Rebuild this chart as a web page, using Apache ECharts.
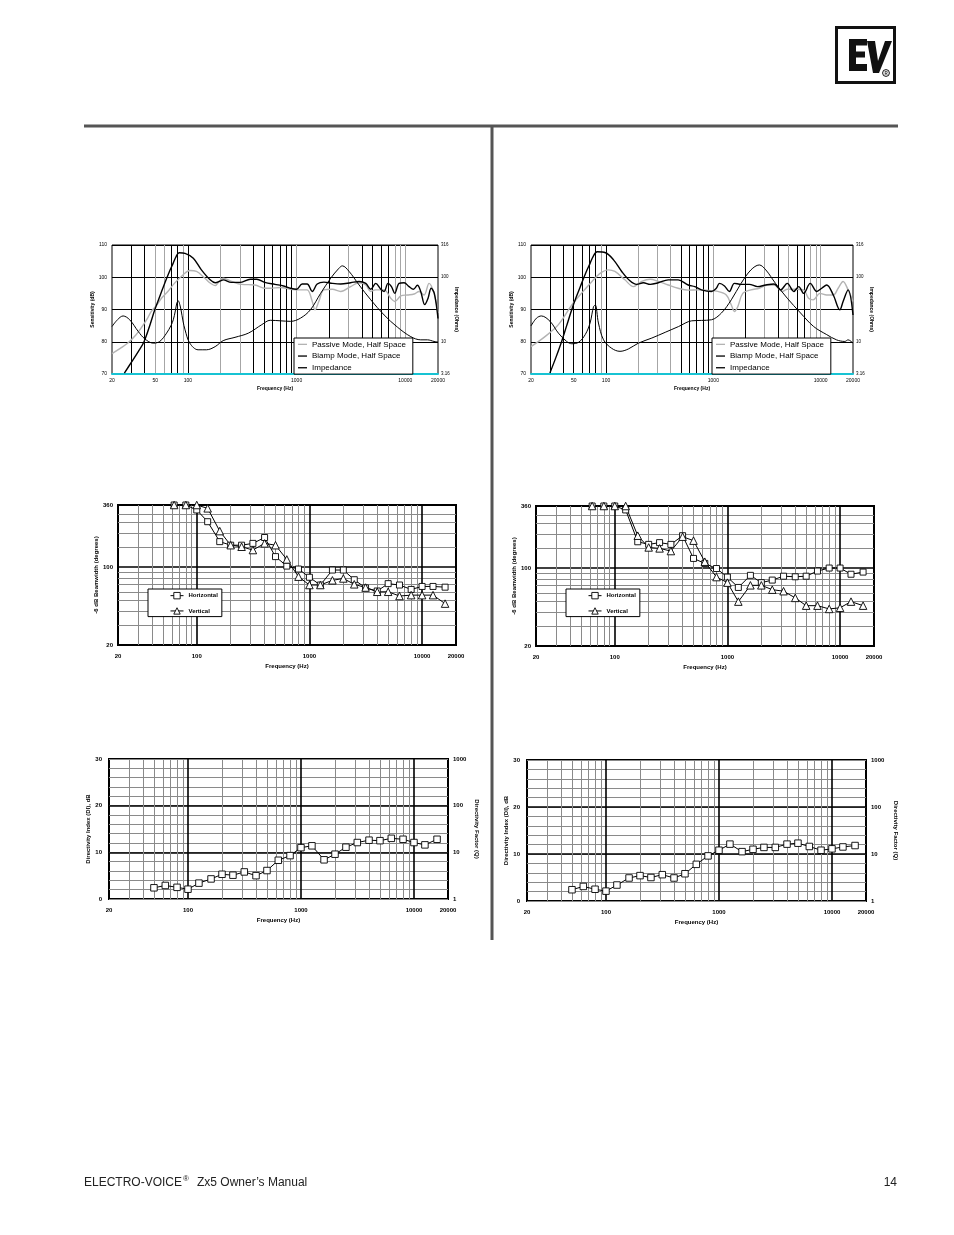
<!DOCTYPE html>
<html><head><meta charset="utf-8">
<script src="https://cdn.jsdelivr.net/npm/echarts@6/dist/echarts.min.js"></script>
<style>html,body{margin:0;padding:0;background:#fff}#c{width:954px;height:1235px}</style>
</head><body><div id="c"></div>
<script>
// ---------------- DATA ----------------
// Frequency response, left (Zx5-60), [Hz, dB]
const TL_PASSIVE = [[20,76.3],[24,78],[28,79.6],[33,82],[37,84.2],[42,87],[46,89.4],[52,91.5],[57,93.5],[65,95.5],[75,98.1],[90,100.7],[104,102.1],[120,101.8],[143,99.7],[160,98.2],[178,97.4],[195,98.8],[211,99.7],[252,98.7],[311,97.8],[413,97.6],[511,96.6],[572,96.6],[710,96.8],[879,96.3],[1085,96.1],[1250,96.1],[1393,92.5],[1475,89.9],[1600,92.5],[1786,96.1],[2132,96.3],[2545,95.6],[3142,97.1],[3753,98.3],[4329,97.6],[4810,95.6],[5346,96.1],[6380,96.1],[7350,93.5],[8000,92.5],[9100,94.2],[10460,94.5],[12060,94.8],[13400,95.6],[14880,94.5],[16550,98.1],[18400,95],[20000,88.9]];
const TL_BIAMP = [[26,70.3],[30,73.5],[35,77],[39.5,80.1],[45,85.5],[49.5,89.9],[55,94],[61,98.1],[67,101.5],[73,104.3],[78,106.5],[83,107.6],[94,107.4],[112,105.9],[133,102.3],[160,99.2],[178,98.3],[200,98.9],[211,99.2],[250,98.4],[300,98.4],[375,99.4],[430,99.4],[510,98.4],[632,97.8],[760,97.3],[880,96.6],[1000,96.3],[1124,97.9],[1250,97.9],[1393,95.6],[1547,97.9],[1786,98.5],[2132,98.1],[2545,97.9],[3142,98.3],[3753,98.7],[4329,98.1],[4810,96.3],[5346,98.1],[5950,96.3],[6380,95.6],[6940,98.1],[7460,97.1],[8000,95],[8770,98.1],[9750,98.3],[10830,97.1],[11870,96.3],[12920,97.5],[13870,95.6],[15100,91.5],[16200,93.5],[17300,96.6],[18500,95],[20000,87.2]];
// impedance, [Hz, ohms]
const TL_IMPEDANCE = [[20,17.2],[22.5,22],[25.3,25.1],[29.1,21.9],[34.8,14.5],[40,11.1],[48,9.5],[55,10.1],[63.6,13.6],[70,18],[73.3,21.9],[76.5,30],[79,39.8],[81.5,43],[84,38],[86.3,31.3],[90,21],[94,15.3],[104,9.5],[124,7.5],[148,7.5],[178,8.4],[211,10.4],[271,11.7],[360,13.6],[478,18.4],[572,21.5],[710,21.1],[879,20.7],[1085,23.2],[1340,31.3],[1660,56],[2060,96.6],[2454,138],[2636,150],[3040,123],[3753,76],[4810,44.7],[6380,26],[8480,16.8],[11230,12],[13870,10.7],[16000,10.7],[18400,10.1],[20000,9.9]];
// Frequency response, right
const TR_PASSIVE = [[20,78.5],[27,81.6],[36,85.3],[48,91.4],[59,95],[74,98.7],[88,101.2],[105,102.3],[121,101.8],[150,99.2],[180,97.1],[215,98.7],[258,99.4],[307,98.7],[380,97.6],[470,96.6],[583,96],[720,96.1],[895,95.9],[1100,95.6],[1320,94.5],[1470,91.4],[1570,89.4],[1690,90.9],[1880,95],[2240,96.1],[2680,96.6],[3200,97.6],[3680,97.6],[4400,95.6],[4880,96.3],[6010,96.3],[6940,96.1],[7700,93.5],[8500,93],[9850,95],[11370,94.5],[13100,94.5],[14550,96.6],[16170,98.7],[17990,96.1],[20000,92.5]];
const TR_BIAMP = [[30,70.3],[34,75],[38.6,80.1],[43,85],[47.9,89.9],[53,94],[59.2,98.1],[65,101.5],[71,104.3],[76,106.5],[82.7,107.9],[98.9,107.6],[117.5,105.4],[140,101.8],[167,98.9],[193,97.8],[223,98.3],[258,97.8],[307,98.3],[380,99.2],[470,99.2],[583,97.6],[672,97.1],[774,96.1],[960,95.6],[1065,96.6],[1140,98.1],[1270,97.3],[1410,95.6],[1570,98.1],[1810,97.8],[2160,97.8],[2580,97.1],[3080,97.6],[3680,97.9],[4240,96.1],[4880,98.1],[5620,95.6],[6240,97.1],[6940,95],[7990,98.1],[9200,95.6],[10230,96.6],[11370,97.6],[13100,94.5],[15080,89.9],[16170,92.5],[17990,96.1],[20000,88.3]];
const TR_IMPEDANCE = [[20,17.6],[22.5,23.2],[25,25.1],[30.1,20.7],[36,13.6],[43,10.1],[48,9.3],[55.5,9.8],[64,12.9],[71,19.5],[76.5,35],[79.4,37],[85,19.5],[94.8,10.7],[113,7.9],[135,7.1],[161,7.7],[200,9.5],[267,11.4],[356,14],[474,17.2],[628,21.1],[774,21.4],[960,21.9],[1190,27.9],[1470,44.7],[1810,80],[2240,130],[2680,155],[3080,130],[3800,80],[4880,47.3],[6490,27.9],[8600,17.2],[11370,12.9],[14040,10.7],[16800,10.1],[17990,10.7],[20000,9.5]];

// Beamwidth (degrees) at 1/3-octave centres
const BW_FREQ = [63,80,100,125,160,200,250,315,400,500,630,800,1000,1250,1600,2000,2500,3150,4000,5000,6300,8000,10000,12500,16000];
const BW_L_HORIZ = [360,360,325,255,169,157,157,163,184,124,102,96,81,69,94,94,77,65,61,71,69,63,67,67,66];
const BW_L_VERT  = [360,360,360,336,210,157,152,142,163,157,117,82,69,69,76,79,70,65.5,60,60,55,56,56,56,47];
const BW_R_HORIZ = [360,360,360,332,172,163,169,163,195,122,110,99,83,67,86,74,78,84.5,83.5,84.5,94,100,100,88,92];
const BW_R_VERT  = [360,360,360,360,195,153,150,142,191,176,114,83,74,50,70,70,64,62,54,46,46,43,44,50,46];

// Directivity index (dB)
const DI_FREQ = [50,63,80,100,125,160,200,250,315,400,500,630,800,1000,1250,1600,2000,2500,3150,4000,5000,6300,8000,10000,12500,16000];
const DI_L = [2.4,2.9,2.5,2.1,3.4,4.3,5.3,5.1,5.8,5.0,6.1,8.3,9.3,11.0,11.4,8.4,9.6,11.1,12.1,12.6,12.5,13.0,12.8,12.1,11.6,12.8];
const DI_R = [2.4,3.1,2.5,2.1,3.4,4.9,5.4,5.0,5.6,4.9,5.8,7.8,9.6,10.8,12.1,10.5,11.0,11.4,11.4,12.1,12.3,11.6,10.8,11.1,11.5,11.8];

// Tick / grid values
const RESP_GRID_FREQS = [30,40,50,60,70,80,90,100,200,300,400,500,600,700,800,900,1000,2000,3000,4000,5000,6000,7000,8000,9000,10000];
const RESP_X_LABELS = [20,50,100,1000,10000,20000];
const IMP_LABELS = [3.16,10,100,316];
const MINOR_FREQS = [30,40,50,60,70,80,90,200,300,400,500,600,700,800,900,2000,3000,4000,5000,6000,7000,8000,9000];
const MAJOR_FREQS = [100,1000,10000];
const X_LABELS = [20,100,1000,10000,20000];
const BW_MINOR = [30,40,50,60,70,80,90,150,200,250,300];
const BW_LABELS = [20,100,360];
const DI_LABELS = [0,10,20,30];
const Q_LABELS = [1,10,100,1000];
const Q_MAJOR = [10,100];

// ---------------- STYLE ----------------
const FONT = '"Liberation Sans", Arial, sans-serif';
const K = '#000', G = '#a6a6a6';
const RESP_L_COLORS = [K,K,G,G,K,K,G,K,G,G,K,K,K,K,K,K,G,K,G,K,K,K,K,G,G,G];
const RESP_R_COLORS = [K,K,K,K,K,K,G,K,G,G,G,K,K,K,K,K,G,K,G,K,G,K,K,G,G,G];
const MINOR_GREY = '#8a8a8a';
const fmt = v => (v >= 20 ? String(Math.round(v)) : String(+(+v).toFixed(2)));

const zip = (xs, ys) => xs.map((x, i) => [x, ys[i]]);
const nameStyle = (fs) => ({fontSize: fs, fontWeight: 'bold', color: '#000', fontFamily: FONT});

const grids = [
  {left:112, top:245, width:326, height:129, show:true, borderColor:'#000', borderWidth:1},
  {left:531, top:245, width:322, height:129, show:true, borderColor:'#000', borderWidth:1},
  {left:118, top:505, width:338, height:140, show:true, borderColor:'#000', borderWidth:2},
  {left:536, top:506, width:338, height:140, show:true, borderColor:'#000', borderWidth:2},
  {left:109, top:759, width:339, height:140, show:true, borderColor:'#000', borderWidth:2},
  {left:527, top:760, width:339, height:141, show:true, borderColor:'#000', borderWidth:2}
].map(g => Object.assign({containLabel:false, outerBoundsMode:'none', backgroundColor:'transparent'}, g));

function respX(gi, colors) {
  return {type:'log', gridIndex:gi, min:20, max:20000,
    axisLine:{show:true, onZero:false, lineStyle:{color:'#17c3d3', width:2}},
    axisTick:{show:false, customValues:RESP_GRID_FREQS},
    axisLabel:{customValues:RESP_X_LABELS, formatter:fmt, fontSize:5, color:'#000', margin:4, fontFamily:FONT},
    splitLine:{show:true, lineStyle:{color:colors, width:1}},
    name:'Frequency (Hz)', nameLocation:'middle', nameGap:12, nameTextStyle:nameStyle(5)};
}
function respYL(gi) {
  return {type:'value', gridIndex:gi, position:'left', min:70, max:110, interval:10,
    axisLine:{show:false}, axisTick:{show:false},
    axisLabel:{fontSize:5, color:'#000', margin:5, fontFamily:FONT},
    splitLine:{show:true, lineStyle:{color:'#000', width:1}},
    name:'Sensitivity (dB)', nameLocation:'middle', nameRotate:90, nameGap:15, nameTextStyle:nameStyle(5)};
}
function respYR(gi) {
  return {type:'log', gridIndex:gi, position:'right', min:3.16, max:316,
    axisLine:{show:false}, axisTick:{show:false, customValues:IMP_LABELS},
    axisLabel:{customValues:IMP_LABELS, formatter:fmt, fontSize:4.5, color:'#000', margin:3, fontFamily:FONT},
    splitLine:{show:false},
    name:'Impedance (Ohms)', nameLocation:'middle', nameRotate:-90, nameGap:12, nameTextStyle:nameStyle(5)};
}
function mainX(gi) {
  return {type:'log', gridIndex:gi, min:20, max:20000, position:'bottom',
    axisLine:{show:false}, axisTick:{show:false, customValues:MINOR_FREQS},
    axisLabel:{customValues:X_LABELS, formatter:fmt, fontSize:6, fontWeight:'bold', color:'#000', margin:8, fontFamily:FONT},
    splitLine:{show:true, lineStyle:{color:MINOR_GREY, width:1}},
    name:'Frequency (Hz)', nameLocation:'middle', nameGap:18, nameTextStyle:nameStyle(6)};
}
function heavyX(gi) {
  return {type:'log', gridIndex:gi, min:20, max:20000, position:'top',
    axisLine:{show:false}, axisTick:{show:false, customValues:MAJOR_FREQS},
    axisLabel:{show:false}, splitLine:{show:true, lineStyle:{color:'#000', width:1.6}}};
}
function bwY(gi, gap) {
  return {type:'log', gridIndex:gi, position:'left', min:20, max:360,
    axisLine:{show:false}, axisTick:{show:false, customValues:BW_MINOR},
    axisLabel:{customValues:BW_LABELS, formatter:fmt, fontSize:6, fontWeight:'bold', color:'#000', margin:5, fontFamily:FONT},
    splitLine:{show:true, lineStyle:{color:MINOR_GREY, width:1}},
    name:'-6 dB Beamwidth (degrees)', nameLocation:'middle', nameRotate:90, nameGap:gap, nameTextStyle:nameStyle(6)};
}
function bwYHeavy(gi) {
  return {type:'log', gridIndex:gi, position:'right', min:20, max:360,
    axisLine:{show:false}, axisTick:{show:false, customValues:[100]},
    axisLabel:{show:false}, splitLine:{show:true, lineStyle:{color:'#000', width:1.6}}};
}
function diY(gi, gap) {
  return {type:'value', gridIndex:gi, position:'left', min:0, max:30, interval:2,
    axisLine:{show:false}, axisTick:{show:false},
    axisLabel:{customValues:DI_LABELS, formatter:fmt, fontSize:6, fontWeight:'bold', color:'#000', margin:7, fontFamily:FONT},
    splitLine:{show:true, lineStyle:{color:MINOR_GREY, width:1}},
    name:'Directivity Index (DI), dB', nameLocation:'middle', nameRotate:90, nameGap:gap, nameTextStyle:nameStyle(6)};
}
function qY(gi, gap) {
  return {type:'log', gridIndex:gi, position:'right', min:1, max:1000,
    axisLine:{show:false}, axisTick:{show:false, customValues:Q_MAJOR},
    axisLabel:{customValues:Q_LABELS, formatter:fmt, fontSize:6, fontWeight:'bold', color:'#000', margin:5, fontFamily:FONT},
    splitLine:{show:true, lineStyle:{color:'#000', width:1.6}},
    name:'Directivity Factor (Q)', nameLocation:'middle', nameRotate:-90, nameGap:gap, nameTextStyle:nameStyle(6)};
}

const xAxes = [respX(0, RESP_L_COLORS), respX(1, RESP_R_COLORS),
  mainX(2), heavyX(2), mainX(3), heavyX(3), mainX(4), heavyX(4), mainX(5), heavyX(5)];
const yAxes = [respYL(0), respYR(0), respYL(1), respYR(1),
  bwY(2, 15), bwYHeavy(2), bwY(3, 17), bwYHeavy(3),
  diY(4, 14), qY(4, 26), diY(5, 13), qY(5, 27)];

const base = {type:'line', animation:false, z:5};
function respSeries(xi, yi, passive, biamp, imp) {
  return [
    Object.assign({}, base, {name:'Passive Mode, Half Space', xAxisIndex:xi, yAxisIndex:yi, data:passive,
      smooth:0.35, symbol:'none', lineStyle:{color:'#b3b3b3', width:1.4}, itemStyle:{color:'#b3b3b3'}}),
    Object.assign({}, base, {name:'Biamp Mode, Half Space', xAxisIndex:xi, yAxisIndex:yi, data:biamp,
      smooth:0.35, symbol:'none', lineStyle:{color:'#000', width:1.4}, itemStyle:{color:'#000'}}),
    Object.assign({}, base, {name:'Impedance', xAxisIndex:xi, yAxisIndex:yi + 1, data:imp,
      smooth:0.35, symbol:'none', lineStyle:{color:'#000', width:1}, itemStyle:{color:'#000'}})
  ];
}
const markerStyle = {color:'#fff', borderColor:'#000', borderWidth:0.9};
function bwSeries(xi, yi, h, v) {
  return [
    Object.assign({}, base, {name:'Horizontal', xAxisIndex:xi, yAxisIndex:yi, data:zip(BW_FREQ, h),
      symbol:'rect', symbolSize:6, lineStyle:{color:'#000', width:1}, itemStyle:markerStyle}),
    Object.assign({}, base, {name:'Vertical', xAxisIndex:xi, yAxisIndex:yi, data:zip(BW_FREQ, v),
      symbol:'triangle', symbolSize:7.5, lineStyle:{color:'#000', width:1}, itemStyle:markerStyle})
  ];
}
function diSeries(xi, yi, d) {
  return [Object.assign({}, base, {name:'DI', xAxisIndex:xi, yAxisIndex:yi, data:zip(DI_FREQ, d),
    symbol:'rect', symbolSize:6.5, lineStyle:{color:'#000', width:1}, itemStyle:markerStyle})];
}

const series = [].concat(
  respSeries(0, 0, TL_PASSIVE, TL_BIAMP, TL_IMPEDANCE),
  respSeries(1, 2, TR_PASSIVE, TR_BIAMP, TR_IMPEDANCE),
  bwSeries(2, 4, BW_L_HORIZ, BW_L_VERT),
  bwSeries(4, 6, BW_R_HORIZ, BW_R_VERT),
  diSeries(6, 8, DI_L),
  diSeries(8, 10, DI_R)
);

function respLegend(left) {
  return {orient:'vertical', left:left, top:338, icon:'rect', itemWidth:9, itemHeight:1.3, itemGap:3,
    padding:[2,7,2,4], backgroundColor:'#fff', borderColor:'#000', borderWidth:1, borderRadius:0,
    selectedMode:false, textStyle:{fontSize:8, lineHeight:8.7, color:'#000', fontFamily:FONT},
    data:['Passive Mode, Half Space','Biamp Mode, Half Space','Impedance']};
}
function bwLegend(left) {
  return {orient:'vertical', left:left, top:589, itemWidth:13, itemHeight:8, itemGap:8,
    padding:[3,4,2,22], backgroundColor:'#fff', borderColor:'#000', borderWidth:1, borderRadius:0,
    selectedMode:false, textStyle:{fontSize:6, fontWeight:'bold', color:'#000', fontFamily:FONT},
    itemStyle:{color:'#fff', borderColor:'#000', borderWidth:0.9},
    lineStyle:{color:'#000', width:1},
    data:[{name:'Horizontal', itemStyle:{color:'#fff', borderColor:'#000', borderWidth:0.9}},
          {name:'Vertical', itemStyle:{color:'#fff', borderColor:'#000', borderWidth:0.9}}]};
}

const graphics = [
  {type:'rect', shape:{x:84, y:124.5, width:814, height:3}, style:{fill:'#555'}},
  {type:'rect', shape:{x:490.5, y:127, width:3, height:813}, style:{fill:'#555'}},
  // logo
  {type:'rect', shape:{x:836.5, y:27.5, width:58, height:55}, style:{fill:'#fff', stroke:'#111', lineWidth:3}},
  {type:'polygon', shape:{points:[[849,39],[867,39],[867,45.5],[856,45.5],[856,51.5],[865,51.5],[865,57.5],[856,57.5],[856,64],[867,64],[867,71],[849,71]]}, style:{fill:'#111'}},
  {type:'polygon', shape:{points:[[867,41],[875,41],[878,61],[885,41],[892,41],[879,73],[873,73]]}, style:{fill:'#111'}},
  {type:'circle', shape:{cx:886, cy:73, r:3.4}, style:{fill:'#fff', stroke:'#111', lineWidth:1}},
  {type:'text', x:886, y:73.3, style:{text:'R', font:'bold 4.5px ' + FONT, fill:'#111', align:'center', verticalAlign:'middle'}},
  // footer
  {type:'text', x:84, y:1183, style:{text:'ELECTRO-VOICE', font:'12px ' + FONT, fill:'#222', align:'left', verticalAlign:'middle'}},
  {type:'text', x:183, y:1179, style:{text:'®', font:'8px ' + FONT, fill:'#222', align:'left', verticalAlign:'middle'}},
  {type:'text', x:197, y:1183, style:{text:'Zx5 Owner\u2019s Manual', font:'12px ' + FONT, fill:'#222', align:'left', verticalAlign:'middle'}},
  {type:'text', x:897, y:1183, style:{text:'14', font:'12px ' + FONT, fill:'#222', align:'right', verticalAlign:'middle'}}
];

const chart = echarts.init(document.getElementById('c'), null, {renderer:'canvas'});
chart.setOption({
  animation:false,
  backgroundColor:'#fff',
  textStyle:{fontFamily:FONT},
  grid:grids,
  xAxis:xAxes,
  yAxis:yAxes,
  legend:[respLegend(294), respLegend(712), bwLegend(148), bwLegend(566)],
  series:series,
  graphic:graphics
});
</script></body></html>
